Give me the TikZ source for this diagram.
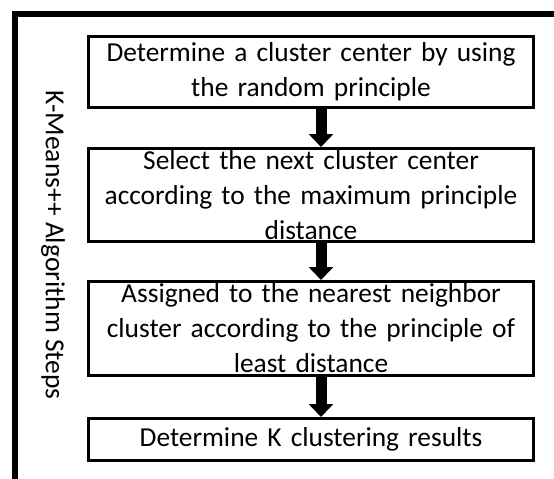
\documentclass[tikz,border=0pt]{standalone}
\usepackage{fontspec}
\setmainfont{Carlito}
\usetikzlibrary{arrows.meta,positioning}

\begin{document}
\begin{tikzpicture}[x=1pt,y=-1pt,
  stepbox/.style={draw=black, line width=3pt, fill=white, text width=440pt, align=center,
    inner sep=0pt, minimum width=445pt, font=\fontsize{27.4}{35}\selectfont},
  flow/.style={line width=11pt, -{Triangle[width=24pt,length=13pt]}}]
\useasboundingbox (0,0) rectangle (554,479);
\draw [line width=6pt] (15,479) -- (15,14) -- (554,14);

\node [stepbox, minimum height=71pt] (s1) at (311,72) {Determine a cluster center by using\\the random principle};
\node [stepbox, minimum height=93pt] (s2) at (311,195) {Select the next cluster center\\according to the maximum principle\\distance};
\node [stepbox, minimum height=94pt] (s3) at (311,328.5) {Assigned to the nearest neighbor\\cluster according to the principle of\\least distance};
\node [stepbox, minimum height=42pt] (s4) at (311,439.5) {Determine K clustering results};

\node [rotate=-90, font=\fontsize{27.5}{32}\selectfont] (title) at (53,245) {K-Means++ Algorithm Steps};

\path [flow]
([xshift=10pt]s1.south) edge ([xshift=10pt]s2.north)
([xshift=10pt]s2.south) edge ([xshift=10pt]s3.north)
([xshift=10pt]s3.south) edge ([xshift=10pt]s4.north);
\end{tikzpicture}
\end{document}
